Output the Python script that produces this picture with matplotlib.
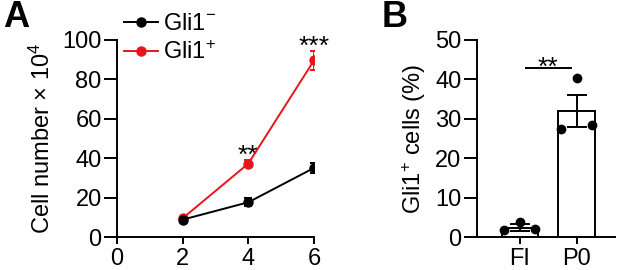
import matplotlib
matplotlib.use("Agg")
import matplotlib.pyplot as plt
from matplotlib.lines import Line2D
import numpy as np

plt.rcParams['font.family'] = ['Liberation Sans', 'DejaVu Sans']
plt.rcParams['mathtext.fontset'] = 'custom'
plt.rcParams['mathtext.rm'] = 'Liberation Sans'
plt.rcParams['mathtext.it'] = 'Liberation Sans:italic'
plt.rcParams['mathtext.bf'] = 'Liberation Sans:bold'

# ---- Panel A data ----
days = [2, 4, 6]
neg_mean = [8.8, 17.6, 35.0]
neg_err = [1.0, 2.0, 2.4]
pos_mean = [9.5, 37.2, 89.5]
pos_err = [0.8, 1.8, 5.0]
a_xticks = [0, 2, 4, 6]
a_yticks = [0, 20, 40, 60, 80, 100]
a_stars = [(4, "**"), (6, "***")]

# ---- Panel B data ----
b_cats = ["FI", "P0"]
b_mean = [2.4, 32.0]
b_err = [0.9, 4.1]
b_points = [[1.8, 3.7, 2.0], [27.3, 40.3, 28.5]]
b_yticks = [0, 10, 20, 30, 40, 50]

RED = '#e8161b'
W, H = 617, 270
fig = plt.figure(figsize=(W / 100, H / 100), dpi=100)

def fr(x0, y0, x1, y1):
    return [x0 / W, 1 - y1 / H, (x1 - x0) / W, (y1 - y0) / H]

FS = 17
LW = 1.4

# ---- Panel A ----
axA = fig.add_axes(fr(117, 39.7, 314, 237))
axA.errorbar(days, pos_mean, yerr=pos_err, color=RED, marker='o', ms=6.5,
             lw=LW, elinewidth=LW, capsize=3, capthick=LW, zorder=3)
axA.errorbar(days, neg_mean, yerr=neg_err, color='black', marker='o', ms=6.5,
             lw=LW, elinewidth=LW, capsize=3, capthick=LW, zorder=4)
axA.set_xlim(0, 6)
axA.set_ylim(0, 100)
axA.set_xticks(a_xticks)
axA.set_yticks(a_yticks)
for x, s in a_stars:
    i = days.index(x)
    axA.text(x, pos_mean[i] + pos_err[i] - 4.0, s, ha='center', va='bottom', fontsize=19)
axA.set_ylabel('Cell number × 10$^{4}$', fontsize=FS)
axA.yaxis.set_label_coords(-0.315, 0.5)
handles = [Line2D([], [], color='black', marker='o', ms=6.5, lw=LW),
           Line2D([], [], color=RED, marker='o', ms=6.5, lw=LW)]
labels = ['Gli1$^{-}$', 'Gli1$^{+}$']
leg = axA.legend(handles, labels, loc='upper left', bbox_to_anchor=(124 / W, 1 - 13 / H),
                 bbox_transform=fig.transFigure, frameon=False, fontsize=FS,
                 handlelength=1.45, handletextpad=0.2, labelspacing=0.25, borderpad=0,
                 borderaxespad=0)

# ---- Panel B ----
axB = fig.add_axes(fr(476.7, 39.7, 615, 237))
xb = np.arange(len(b_cats))
axB.bar(xb, b_mean, width=0.647, color='white', edgecolor='black', linewidth=LW, zorder=2)
axB.errorbar(xb, b_mean, yerr=b_err, fmt='none', ecolor='black', elinewidth=LW,
             capsize=7, capthick=LW, zorder=3)
offs = [-0.275, 0.0, 0.265]
for i, pts in enumerate(b_points):
    axB.plot(xb[i] + np.array(offs), pts, 'o', color='black', ms=6, zorder=4, clip_on=False)
axB.set_xlim(-0.764, 1.676)
axB.set_ylim(0, 50)
axB.set_xticks(xb)
axB.set_xticklabels(b_cats)
axB.set_yticks(b_yticks)
axB.plot([0.1, 0.9], [42.9, 42.9], color='black', lw=LW)
axB.text(0.5, 39.8, '**', ha='center', va='bottom', fontsize=19)
axB.set_ylabel('Gli1$^{+}$ cells (%)', fontsize=FS)
axB.yaxis.set_label_coords(-0.352, 0.5)

for ax in (axA, axB):
    for s in ('top', 'right'):
        ax.spines[s].set_visible(False)
    for s in ('left', 'bottom'):
        ax.spines[s].set_linewidth(LW)
    ax.tick_params(axis='both', labelsize=FS, width=LW, direction='out')
    ax.tick_params(axis='y', length=9.5, pad=1.5)
    ax.tick_params(axis='x', length=5, pad=3)

fig.text(3 / W, 1 - 27 / H, 'A', fontsize=26, fontweight='bold', ha='left', va='baseline')
fig.text(382 / W, 1 - 27 / H, 'B', fontsize=26, fontweight='bold', ha='left', va='baseline')

fig.savefig('out.png', dpi=100)
